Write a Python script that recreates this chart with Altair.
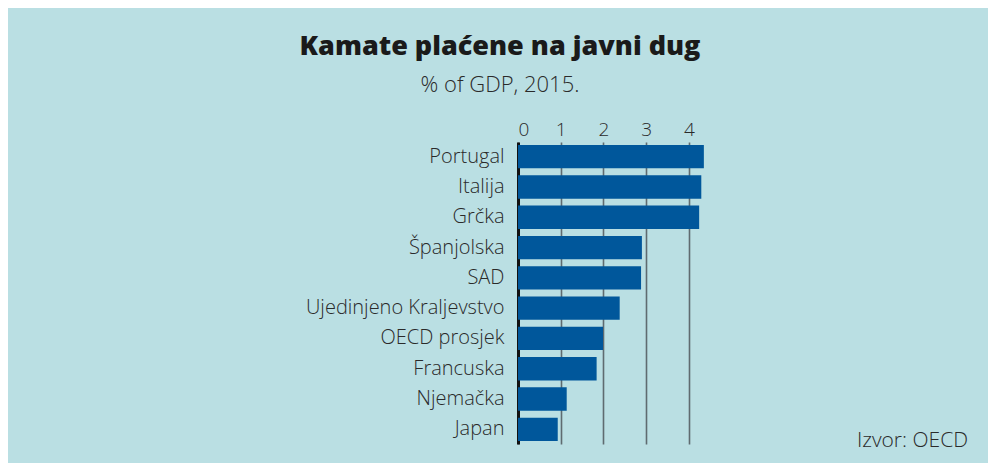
import altair as alt
import pandas as pd

countries = ["Portugal", "Italija", "Grčka", "Španjolska", "SAD",
             "Ujedinjeno Kraljevstvo", "OECD prosjek", "Francuska", "Njemačka", "Japan"]
values = [4.35, 4.29, 4.24, 2.90, 2.88, 2.38, 1.99, 1.84, 1.14, 0.93]
x_ticks = [0, 1, 2, 3, 4]
source_note = "Izvor: OECD"

df = pd.DataFrame({"country": countries, "value": values})

BG = "#BADFE3"
BAR = "#00579B"
TXT = "#2a2a2a"
FONT = "Open Sans"

bars = alt.Chart(df).mark_bar(color=BAR).encode(
    x=alt.X("value:Q",
            scale=alt.Scale(domain=[0, 4.4], nice=False, zero=True),
            axis=alt.Axis(orient="top", values=x_ticks, format="d", title=None,
                          domain=False, ticks=False, labelPadding=3,
                          labelFontSize=19, labelFontWeight=300,
                          labelColor=TXT, labelFont=FONT,
                          grid=True, gridColor="#5f6b70", gridWidth=1.6)),
    y=alt.Y("country:N", sort=countries,
            scale=alt.Scale(paddingInner=0.23, paddingOuter=0.1),
            axis=alt.Axis(title=None, ticks=False, domain=True, domainColor="#111111",
                          domainWidth=3, labelPadding=14, labelFontSize=20,
                          labelFontWeight=300, labelLimit=400,
                          labelColor=TXT, labelFont=FONT, grid=False)),
)

note = alt.Chart(pd.DataFrame({"t": [source_note]})).mark_text(
    align="right", baseline="middle", fontSize=21, fontWeight=300, font=FONT, color=TXT
).encode(text="t:N", x=alt.value(450), y=alt.value(299))

chart = alt.layer(bars, note).properties(
    width=188, height=302,
    background=BG,
    padding={"left": 510, "top": 134, "right": 282, "bottom": 19},
    autosize=alt.AutoSizeParams(type="none"),
    title=alt.TitleParams(
        text="Kamate plaćene na javni dug",
        subtitle="% of GDP, 2015.",
        anchor="middle", frame="group", dx=-112, offset=23,
        font=FONT, fontSize=27, fontWeight=800, color="#1a1a1a",
        subtitleFont=FONT, subtitleFontSize=22, subtitleFontWeight=300,
        subtitleColor=TXT, subtitlePadding=14,
    ),
).configure_view(stroke=None)

chart.save("out.html", embed_options={"renderer": "svg", "actions": False})
